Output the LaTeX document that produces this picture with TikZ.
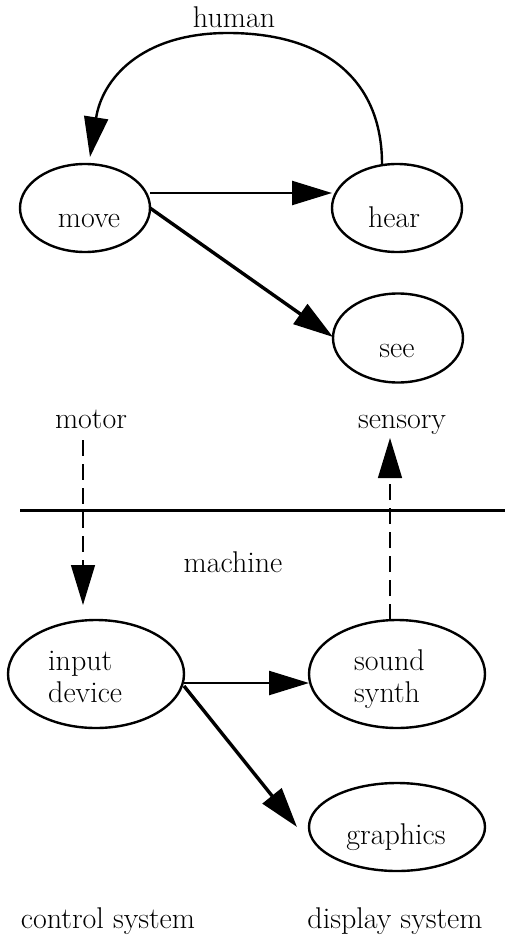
\documentclass[tikz,border=0pt]{standalone}
\usetikzlibrary{shapes.geometric,arrows.meta}
\begin{document}
\begin{tikzpicture}[x=1pt,y=-1pt,
  every node/.style={font=\fontsize{30}{34}\selectfont},
  oval/.style={draw, ellipse, line width=2.4pt, inner sep=0pt, outer sep=0pt},
  txt/.style={inner sep=0pt, anchor=base},
  arr/.style={line width=2.4pt, -{Triangle[length=40pt,width=24pt]}},
  thickarr/.style={line width=3.4pt, -{Triangle[length=40pt,width=24pt]}},
  dasharr/.style={line width=1.3pt, dash pattern=on 16pt off 8pt, -{Triangle[length=40pt,width=24pt]}}
]
\useasboundingbox (0,0) rectangle (505,936);
% human side
\node[oval, minimum width=130pt, minimum height=88pt] (move) at (85,208) {};
\node[oval, minimum width=130pt, minimum height=88pt] (hear) at (397,208) {};
\node[oval, minimum width=130pt, minimum height=89pt] (see) at (398,338) {};
\node[txt] (tmove) at (89,227) {move};
\node[txt] (thear) at (394,227) {hear};
\node[txt] (tsee) at (397,357) {see};
\node[txt] (human) at (234,28) {human};
\node[txt] (motor) at (91,428) {motor};
\node[txt] (sensory) at (402,428) {sensory};
% separator
\draw[line width=3pt] (20,510) -- (505,510);
% machine side
\node[txt] (machine) at (233,572) {machine};
\node[oval, minimum width=176pt, minimum height=108pt] (input) at (96,674) {};
\node[oval, minimum width=176pt, minimum height=108pt] (sound) at (397,674) {};
\node[oval, minimum width=176pt, minimum height=88pt] (graphics) at (397,827) {};
\node[txt, anchor=base west] (tinput) at (48,670) {input};
\node[txt, anchor=base west] (tdevice) at (48,702) {device};
\node[txt, anchor=base west] (tsound) at (354,670) {sound};
\node[txt, anchor=base west] (tsynth) at (354,702) {synth};
\node[txt] (tgraphics) at (396,844) {graphics};
\node[txt] (control) at (108,928) {control system};
\node[txt] (display) at (395,928) {display system};
% connectors
\draw[arr] ([xshift=-15pt]hear.north) .. controls (382,80) and (325,33) .. (228,33)
  .. controls (140,33) and (102,80) .. ([xshift=5pt,yshift=7pt]move.north);
\draw[arr] ([yshift=15pt]move.east) -- ([yshift=15pt]hear.west);
\draw[thickarr] (move.east) -- ([yshift=1pt]see.west);
\draw[dasharr] ([xshift=-8pt,yshift=-12pt]motor.base) -- ([xshift=-13pt,yshift=15pt]input.north);
\draw[dasharr] ([xshift=-7pt]sound.north) -- ([xshift=-12pt,yshift=-10pt]sensory.base);
\draw[arr] ([yshift=-9pt]input.east) -- ([yshift=-9pt]sound.west);
\draw[thickarr] ([yshift=-12pt]input.east) -- ([xshift=-12pt]graphics.west);
\end{tikzpicture}
\end{document}
